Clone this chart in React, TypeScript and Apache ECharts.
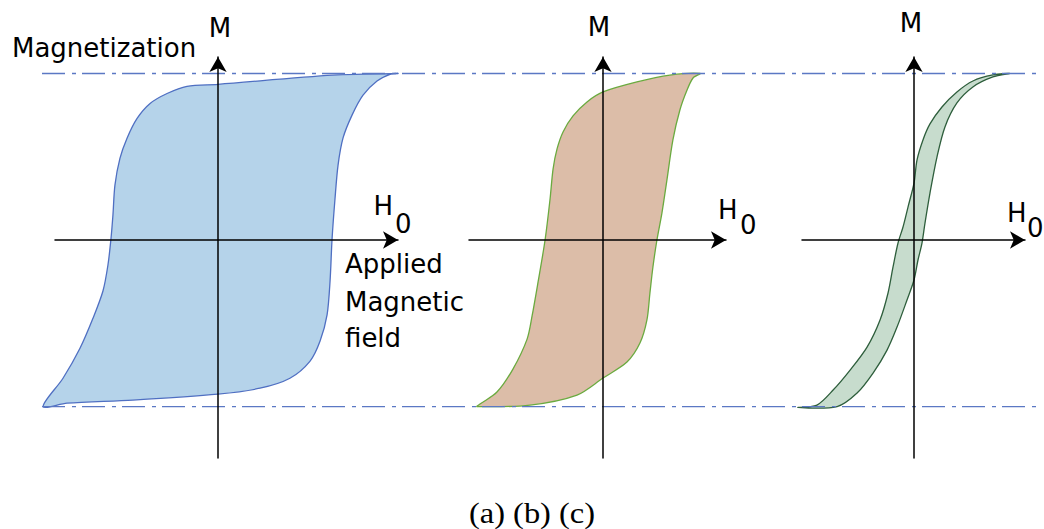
import React, { useEffect, useRef } from "react";
import * as echarts from "echarts";

// Hysteresis loops: [H, M] pairs, M saturation = ±100 (arbitrary units)
// (a) hard magnet – descending branch (from +sat to -sat)
const loopA_desc: number[][] = [
  [108, 100], [69, 99], [0, 93.5], [-18.6, 92.3], [-30.6, 88], [-40.8, 82], [-48.6, 73],
  [-54.7, 61], [-58.9, 49], [-61.9, 33], [-63.1, 15], [-64.3, 0.6], [-66.1, -15],
  [-69.1, -30.6], [-75.1, -47], [-82.9, -65], [-93.1, -83], [-105, -100],
];
// (a) ascending branch (from -sat to +sat)
const loopA_asc: number[][] = [
  [-90.7, -98], [-51.1, -96.1], [0, -92.5], [25.2, -89], [43.2, -83], [55.3, -72.7],
  [61.3, -60.7], [65.5, -45], [67.3, -24.6], [68.5, 0.6], [70.3, 25.2], [72.1, 45],
  [75.1, 61.3], [80.5, 75], [87.1, 87], [95.5, 95.5], [103.3, 99.5],
];
// (b) intermediate
const loopB_desc: number[][] = [
  [58.3, 100], [40.2, 99], [20.4, 94.9], [0, 88.9], [-9.6, 82.9], [-18, 74.5], [-24, 64.9],
  [-27.6, 54.7], [-30, 42.6], [-31.8, 24.6], [-34.8, 0], [-39, -25.2], [-42.6, -45.6],
  [-45.6, -59.5], [-54.1, -77.5], [-63.7, -91.3], [-73.9, -98.5], [-75.7, -100],
];
const loopB_asc: number[][] = [
  [-43.8, -99.1], [-15.6, -93.1], [0, -82.9], [14.4, -73.3], [22.2, -61.9], [26.4, -48],
  [28.2, -31.8], [30, -16.2], [32.4, 0], [35.4, 16.2], [38.4, 36], [42, 60.1],
  [46.2, 78.1], [50.5, 90.1], [54.1, 97.3],
];
// (c) soft magnet
const loopC_desc: number[][] = [
  [57.7, 100], [47.4, 99.1], [35.4, 95.5], [25.8, 88.9], [16.8, 79.9], [9.6, 69.7],
  [5.4, 60.1], [1.8, 48], [0, 34.2], [-3.6, 19.8], [-6.6, 7.8], [-9.6, -1.8],
  [-12.6, -16.2], [-15.6, -31.8], [-20.4, -48], [-28.2, -64.3], [-38.4, -78.1],
  [-48.6, -90.1], [-58.3, -99.1], [-69.7, -100.5],
];
const loopC_asc: number[][] = [
  [-46.2, -100], [-34.2, -91.9], [-24.6, -79.9], [-16.2, -66.1], [-10.2, -52.3],
  [-4.2, -36], [0, -24], [2.4, -12], [4.8, -1.8], [6.6, 10.2], [9.6, 28.2], [13.8, 49.8],
  [18.6, 67.9], [25.8, 82.3], [35.4, 91.9], [47.4, 97.9],
];

// saturation reference lines (drawn in a full-width overlay grid, span 0..1)
const satLevels: number[] = [100, -100];
const satSpan: number[] = [0, 1];

// axis ranges for each panel [xmin, xmax]
const xRanges: number[][] = [[-97.9, 108.1], [-80.5, 73.9], [-67.3, 66.7]];
const yRange: number[] = [-130.9, 109.9];

const panelLabels: string[] = ["(a) (b) (c)"];

const FONT = "DejaVu Sans";

export default function App() {
  const ref = useRef<HTMLDivElement>(null);

  useEffect(() => {
    document.body.style.margin = "0";
    if (!ref.current) return;
    const chart = echarts.init(ref.current, undefined, { renderer: "svg" });

    const grids = [
      { left: 55, top: 57, width: 343, height: 401 },
      { left: 469, top: 57, width: 257, height: 401 },
      { left: 802, top: 57, width: 223, height: 401 },
      { left: 42, top: 57, width: 995, height: 401 },
    ];

    const axisLine = {
      show: true,
      onZero: true,
      symbol: ["none", "arrow"],
      symbolSize: [13, 15],
      lineStyle: { color: "#000", width: 1.5 },
    };

    const xAxis: any[] = xRanges.map((r, i) => ({
      type: "value",
      gridIndex: i,
      min: r[0],
      max: r[1],
      z: 10,
      axisLine,
      axisTick: { show: false },
      axisLabel: { show: false },
      splitLine: { show: false },
    }));
    const yAxis: any[] = xRanges.map((_, i) => ({
      type: "value",
      gridIndex: i,
      min: yRange[0],
      max: yRange[1],
      z: 10,
      axisLine,
      axisTick: { show: false },
      axisLabel: { show: false },
      splitLine: { show: false },
    }));
    xAxis.push({ type: "value", gridIndex: 3, min: 0, max: 1, show: false });
    yAxis.push({ type: "value", gridIndex: 3, min: yRange[0], max: yRange[1], show: false });

    const loops = [
      { pts: [...loopA_desc, ...loopA_asc], fill: "#b5d3ea", stroke: "#4f6fc2" },
      { pts: [...loopB_desc, ...loopB_asc], fill: "#dcbda8", stroke: "#6aaa3f" },
      { pts: [...loopC_desc, ...loopC_asc], fill: "#c7dccd", stroke: "#2e5e3c" },
    ];

    const loopSeries = loops.map((l, i) => ({
      type: "custom",
      xAxisIndex: i,
      yAxisIndex: i,
      clip: false,
      z: 2,
      encode: { x: 0, y: 1 },
      data: l.pts,
      renderItem: (params: any, api: any) => {
        if (params.dataIndex !== 0) return null;
        const points = l.pts.map((p) => api.coord(p));
        return {
          type: "polygon",
          shape: { points, smooth: 0.3 },
          style: { fill: l.fill, stroke: l.stroke, lineWidth: 1.3 },
        };
      },
    }));

    const satSeries = satLevels.map((lv) => ({
      type: "line",
      xAxisIndex: 3,
      yAxisIndex: 3,
      z: 3,
      symbol: "none",
      silent: true,
      data: satSpan.map((h) => [h, lv]),
      lineStyle: { color: "#5b78c4", width: 1.3, type: [23, 7, 4, 6] },
    }));

    const txt = (text: string, x: number, y: number, align = "left", extra: any = {}) => ({
      type: "text",
      x,
      y,
      z: 20,
      ...extra,
      style: {
        text,
        fontSize: 26,
        fontFamily: FONT,
        fill: "#000",
        align,
        verticalAlign: "middle",
        ...(extra.style || {}),
      },
    });

    const graphic = [
      txt("Magnetization", 12, 47.5),
      txt("M", 220, 28, "center"),
      txt("M", 599, 27, "center"),
      txt("M", 911, 23, "center"),
      txt("H", 373.5, 206),
      txt("0", 395, 224),
      txt("H", 718, 210),
      txt("0", 740, 225),
      txt("H", 1007, 212.5),
      txt("0", 1027, 228),
      txt("Applied", 345, 264),
      txt("Magnetic", 345, 302),
      txt("field", 345, 338),
      txt(panelLabels[0], 532, 514, "center", {
        scaleX: 1.12,
        style: { fontFamily: "Liberation Serif", fontSize: 29 },
      }),
    ];

    chart.setOption({
      animation: false,
      backgroundColor: "#fff",
      grid: grids,
      xAxis,
      yAxis,
      series: [...loopSeries, ...satSeries],
      graphic,
    });

    return () => chart.dispose();
  }, []);

  return <div ref={ref} style={{ width: 1044, height: 529 }} />;
}
